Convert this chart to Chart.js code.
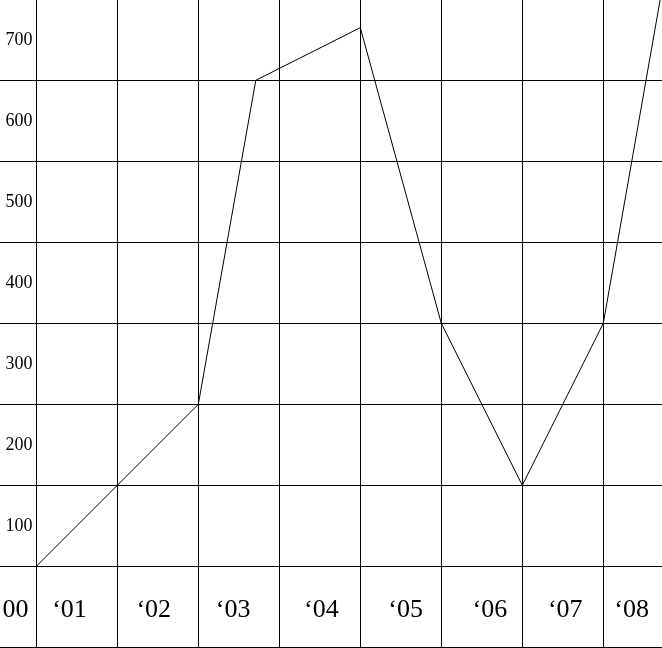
<!DOCTYPE html>
<html>
<head>
<meta charset="utf-8">
<script src="https://cdn.jsdelivr.net/npm/chart.js@4/dist/chart.umd.min.js"></script>
<style>
  html, body { margin: 0; padding: 0; background: #fff; overflow: hidden; }
</style>
</head>
<body>
<canvas id="lineChart" width="662" height="648"></canvas>
<script>
// year labels in the bottom row, one per column
const yearLabels = ['‘00', '‘01', '‘02', '‘03', '‘04', '‘05', '‘06', '‘07', '‘08'];
// how far each year label sits off its column centre (in columns)
const labelShift = [0.19, -0.09, -0.05, -0.07, 0.02, 0.06, 0.1, 0.03, -0.15];
// row labels on the left, written in the middle of each row
const rowLabels = [100, 200, 300, 400, 500, 600, 700];
// the line: column position and value
const pointX = [1, 2, 3, 3.71, 5, 6, 7, 8, 9];
const pointY = [0, 100, 200, 600, 665, 300, 100, 300, 869];

const gridRows = [-100, 0, 100, 200, 300, 400, 500, 600];
const gridCols = [1, 2, 3, 4, 5, 6, 7, 8];

const xMin = 1 - 36.3 / 81, xMax = 1 + (662 - 36.3) / 81;
const yMin = -(648 - 566.3) / 0.81, yMax = 566.3 / 0.81;

// labels may hang over the edge, so keep the plot area the whole canvas
const noPadding = axis => {
    axis.paddingLeft = 0;
    axis.paddingRight = 0;
    axis.paddingTop = 0;
    axis.paddingBottom = 0;
};

const ctx = document.getElementById('lineChart').getContext('2d');

const lineChart = new Chart(ctx, {
    type: 'line',
    data: {
        datasets: [{
            data: pointX.map((x, i) => ({ x: x, y: pointY[i] })),
            borderColor: '#000',
            borderWidth: 1,
            pointRadius: 0,
            tension: 0,
            fill: false
        }]
    },
    options: {
        responsive: false,
        animation: false,
        layout: { padding: 0 },
        plugins: {
            legend: { display: false },
            tooltip: { enabled: false }
        },
        scales: {
            x: {
                type: 'linear',
                min: xMin,
                max: xMax,
                position: { y: -100 },
                afterBuildTicks: axis => { axis.ticks = gridCols.map(v => ({ value: v })); },
                afterFit: noPadding,
                grid: { color: '#000', lineWidth: 1, drawTicks: false },
                border: { display: false },
                ticks: { display: false }
            },
            xl: {
                type: 'linear',
                min: xMin,
                max: xMax,
                position: { y: 0 },
                afterBuildTicks: axis => {
                    axis.ticks = yearLabels.map((_, i) => ({ value: i + 0.5 + labelShift[i] }));
                },
                afterFit: noPadding,
                grid: { display: false, drawTicks: false },
                border: { display: false },
                ticks: {
                    autoSkip: false,
                    maxRotation: 0,
                    padding: 28,
                    color: '#000',
                    font: { family: '"Liberation Serif", "Times New Roman", serif', size: 26 },
                    callback: (v, i) => yearLabels[i]
                }
            },
            y: {
                type: 'linear',
                min: yMin,
                max: yMax,
                position: { x: 1 - 3.8 / 81 },
                afterBuildTicks: axis => {
                    axis.ticks = gridRows.concat(rowLabels.map(v => v - 50)).map(v => ({ value: v }));
                },
                afterFit: noPadding,
                grid: {
                    drawTicks: false,
                    lineWidth: 1,
                    color: c => (c.tick && gridRows.includes(c.tick.value)) ? '#000' : 'rgba(0,0,0,0)'
                },
                border: { display: false },
                ticks: {
                    autoSkip: false,
                    padding: 0,
                    color: '#000',
                    font: { family: '"Liberation Serif", "Times New Roman", serif', size: 18 },
                    callback: v => rowLabels.includes(v + 50) ? String(v + 50) : ''
                }
            }
        }
    }
});
</script>
</body>
</html>
